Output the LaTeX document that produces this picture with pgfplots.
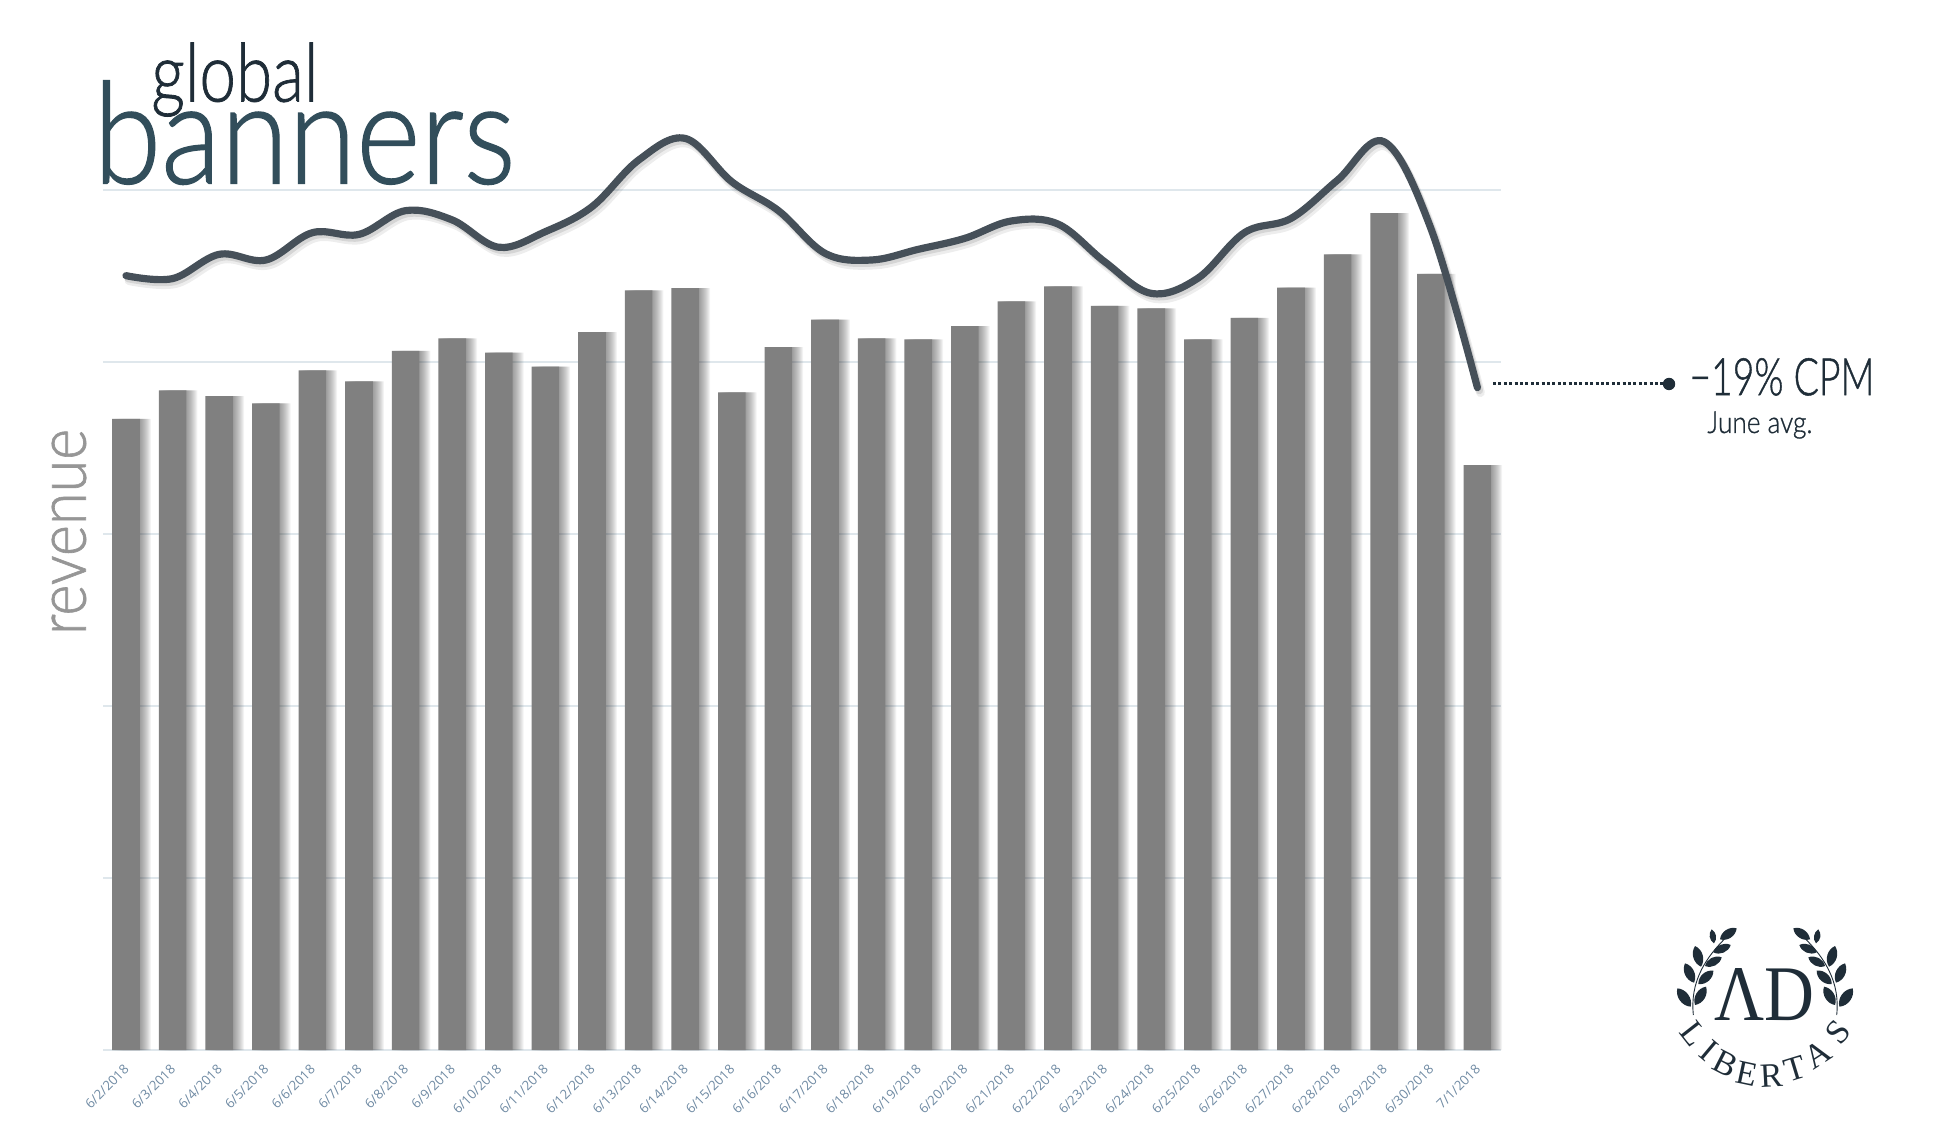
\documentclass[border=0pt]{standalone}
\usepackage{pgfplots}
\usepackage{pgfplotstable}
\usepackage{fontspec}
\pgfplotsset{compat=1.18}
\setmainfont{Lato}
\newfontfamily\lt{Lato}[UprightFont=* Light]
\newfontfamily\ltb{Lato}[UprightFont=* Light,FakeBold=1]
\newfontfamily\os{Open Sans}
\newfontfamily\lsf{Liberation Serif}
\definecolor{gridc}{HTML}{DFE7EC}
\definecolor{barc}{HTML}{808080}
\definecolor{linec}{HTML}{465059}
\definecolor{navy}{HTML}{1F2D38}
\definecolor{teal}{HTML}{324E5B}
\definecolor{tickc}{HTML}{6F8AA3}
\pgfplotstableread{
x bars cpm
0 366.9 450.2
1 383.5 448.5
2 380.2 462.6
3 376.0 459.3
4 395.2 475.2
5 388.8 474.2
6 406.4 488.0
7 413.8 482.6
8 405.4 466.7
9 397.3 475.8
10 417.3 490.3
11 441.7 517.4
12 442.9 530.0
13 382.4 504.8
14 408.6 488.0
15 424.6 463.2
16 413.8 459.3
17 413.2 465.5
18 420.8 471.9
19 435.3 482.0
20 444.0 480.2
21 432.6 458.3
22 431.2 439.9
23 413.2 448.7
24 425.6 475.2
25 443.2 483.5
26 462.6 505.8
27 486.5 528.0
28 451.2 477.7
29 340.1 385.1
}\datatable
\newcommand\leaf[4]{\fill[navy] (#1,#2) to[bend left=50] (#3,#4) to[bend left=50] (#1,#2);
\fill[navy] (750-#1,#2) to[bend left=50] (750-#3,#4) to[bend left=50] (750-#1,#2);}
\begin{document}
\begin{tikzpicture}[x=0.5pt,y=0.5pt]
\useasboundingbox (0,0) rectangle (1946,1125);
\begin{axis}[
  at={(51.5pt,37.5pt)}, anchor=south west, scale only axis,
  width=699pt, height=430pt,
  xmin=-0.4936, xmax=29.506, ymin=0, ymax=500,
  clip=false,
  axis line style={draw=none},
  major tick length=0pt,
  ytick={0,100,200,300,400,500}, yticklabels={},
  ymajorgrids, grid style={gridc,line width=0.8pt},
  xtick={0,...,29},
  xticklabels={6/2/2018,6/3/2018,6/4/2018,6/5/2018,6/6/2018,6/7/2018,6/8/2018,6/9/2018,6/10/2018,6/11/2018,6/12/2018,6/13/2018,6/14/2018,6/15/2018,6/16/2018,6/17/2018,6/18/2018,6/19/2018,6/20/2018,6/21/2018,6/22/2018,6/23/2018,6/24/2018,6/25/2018,6/26/2018,6/27/2018,6/28/2018,6/29/2018,6/30/2018,7/1/2018},
  xticklabel style={font=\os\fontsize{6.6}{8}\selectfont, text=tickc, rotate=45, anchor=north east, inner sep=0pt, xshift=-5.8pt, yshift=-3.6pt},
]
\pgfplotsinvokeforeach{0.5,1.0,1.5,2.0,2.5,3.0,3.5,4.0,4.5,5.0,5.5}{
  \addplot[ybar, bar width=13.8pt, bar shift=#1pt, draw=none, fill=black!70, fill opacity=0.065] table[x=x,y=bars] {\datatable};
}
\addplot[ybar, bar width=13.8pt, bar shift=0pt, draw=none, fill=barc] table[x=x,y=bars] {\datatable};
\addplot[smooth, tension=0.6, no marks, black, opacity=0.07, line width=4.4pt, line cap=round, transform canvas={xshift=1.5pt,yshift=-2.5pt}] table[x=x,y=cpm] {\datatable};
\addplot[smooth, tension=0.6, no marks, black, opacity=0.10, line width=3.6pt, line cap=round, transform canvas={xshift=1pt,yshift=-1.5pt}] table[x=x,y=cpm] {\datatable};
\addplot[smooth, tension=0.6, no marks, linec, line width=3.6pt, line cap=round] table[x=x,y=cpm] {\datatable};
\end{axis}
% titles
\node[anchor=south west,inner sep=0pt,text=navy] at (151,1125-117) {\resizebox*{83.5pt}{37pt}{\ltb global}};
\node[anchor=south west,inner sep=0pt,text=teal] at (93,1125-185) {\resizebox*{211pt}{52pt}{\ltb banners}};
\node[inner sep=0pt,text=black!41] at (69,1125-532) {\rotatebox{90}{\resizebox{103pt}{17pt}{\ltb revenue}}};
% annotation
\draw[navy,line width=1.5pt,dash pattern=on 1.5pt off 1.2pt] (1493,1125-384) -- (1669,1125-384);
\fill[navy] (1669,1125-384) circle (6.2);
\node[anchor=south west,inner sep=0pt,text=navy] at (1689,1125-396) {\resizebox{92.5pt}{18.5pt}{\ltb −19\% CPM}};
\node[anchor=south west,inner sep=0pt,text=navy] at (1707,1125-439) {\resizebox*{52.5pt}{13.5pt}{\ltb June avg.}};
% logo
\begin{scope}[shift={(820pt,112.5pt)},x=0.16667pt,y=-0.16667pt]
\draw[navy,line width=0.45pt] (160,345) .. controls (150,250) and (190,170) .. (285,88);
\draw[navy,line width=0.45pt] (590,345) .. controls (600,250) and (560,170) .. (465,88);
\leaf{152}{320}{112}{265}
\leaf{162}{248}{135}{190}
\leaf{183}{200}{165}{138}
\leaf{222}{130}{215}{88}
\leaf{165}{315}{198}{260}
\leaf{175}{252}{220}{212}
\leaf{195}{198}{245}{172}
\leaf{220}{157}{272}{135}
\leaf{240}{118}{290}{85}
\node[inner sep=0pt,text=navy] at (372,285) {\resizebox{50pt}{26pt}{\lsf ΛD}};
\foreach \c/\px/\py/\a in {L/160/400/-52,I/208/452/-40,B/258/492/-27,E/322/520/-12,R/394/526/3,T/466/507/17,A/532/462/33,S/594/396/50}
  \node[inner sep=0pt,text=navy,rotate=\a,font=\lsf\fontsize{17}{17}\selectfont] at (\px,\py) {\c};
\end{scope}
\end{tikzpicture}
\end{document}
